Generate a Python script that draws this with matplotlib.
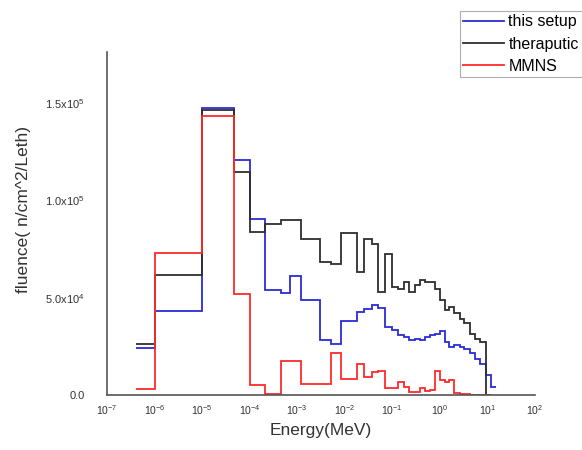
import numpy as np
import matplotlib
matplotlib.use("Agg")
import matplotlib.pyplot as plt

plt.rcParams['font.family'] = ['Liberation Sans', 'DejaVu Sans']
plt.rcParams['mathtext.default'] = 'regular'
plt.rcParams['axes.unicode_minus'] = False

# bordes de los bins de energia (MeV)
edges = [4.1e-7, 1e-6, 1e-5, 4.7e-5, 1e-4, 2.1e-4, 4.5e-4, 7e-4, 1.2e-3, 3e-3,
         5.2e-3, 8.5e-3, 1.8e-2, 2.6e-2, 3.7e-2, 4.9e-2, 7.2e-2, 0.1, 0.13, 0.18,
         0.23, 0.30, 0.38, 0.48, 0.62, 0.78, 1.0, 1.26, 1.6, 2.0,
         2.6, 3.3, 4.3, 5.4, 6.9, 9.6, 12, 15.5]

# fluencia en miles de n/cm^2/Leth
setup_k = [24, 43, 147.5, 120.5, 90.6, 54, 52.5, 61, 48.7, 28.5,
           26, 38, 42.7, 44, 46, 44.5, 35, 33.5, 31, 30,
           28.5, 29, 28.2, 29.9, 30.8, 31.6, 33, 27.5, 24.8, 25.6,
           24.8, 23.6, 21.4, 18.3, 15.9, 10.3, 4.3]
therap_k = [26, 61.5, 146.5, 114.5, 83.7, 88, 89.7, 89.7, 80.3, 68.4,
            67.2, 83, 63.2, 80.3, 77.8, 53, 72.6, 55.5, 54.7, 58,
            53, 56.4, 59.3, 58, 57.8, 54.7, 48.7, 43.6, 45.3, 41.9,
            39.3, 36.8, 31.6, 29, 27.3, 0]
mmns_k = [3, 73, 143, 51.8, 5, 0.8, 17.6, 17.6, 5.8, 5.8,
          21.4, 8.5, 16, 9.4, 12, 12.5, 3.8, 3.8, 6.5, 4.3,
          1.8, 1.5, 3.5, 2, 2.5, 12.5, 7.5, 6.8, 7.5, 1,
          0.5, 0.4, 0.3, 0.3, 0.2]

labels = ["this setup", "theraputic", "MMNS"]
colores = ["#2b2bd6", "#2e2e2e", "#ff2a2a"]

yticks = [0, 5e4, 1e5, 1.5e5]
yticklabels = ["0.0", "5.0x10$^4$", "1.0x10$^5$", "1.5x10$^5$"]
xticks = [1e-7, 1e-6, 1e-5, 1e-4, 1e-3, 1e-2, 1e-1, 1e0, 1e1, 1e2]
xticklabels = ["10$^{-7}$", "10$^{-6}$", "10$^{-5}$", "10$^{-4}$", "10$^{-3}$",
               "10$^{-2}$", "10$^{-1}$", "10$^{0}$", "10$^{1}$", "10$^{2}$"]

fig = plt.figure(figsize=(5.82, 4.5), dpi=100)
ax = fig.add_axes([0.184, 0.122, 0.735, 0.762])

series = [setup_k, therap_k, mmns_k]
for vals, lab, c in zip(series, labels, colores):
    v = np.array(vals) * 1000
    ax.stairs(v, edges[:len(v) + 1], baseline=None, color=c, lw=1.3, label=lab)

ax.set_xscale('log')
ax.set_xlim(1e-7, 1e2)
ax.set_ylim(0, 1.76e5)
ax.set_xticks(xticks)
ax.set_xticklabels(xticklabels)
ax.minorticks_off()
ax.set_yticks(yticks)
ax.set_yticklabels(yticklabels)
ax.tick_params(axis='both', length=0, labelsize=8, labelcolor='#333333')
ax.tick_params(axis='x', labelsize=7.5, pad=6)
ax.tick_params(axis='y', pad=16)

for s in ['top', 'right']:
    ax.spines[s].set_visible(False)
for s in ['left', 'bottom']:
    ax.spines[s].set_color('#555555')
    ax.spines[s].set_linewidth(1.2)

ax.set_xlabel("Energy(MeV)", fontsize=12.5, color='#333333', labelpad=4)
ax.set_ylabel("fluence( n/cm^2/Leth)", fontsize=12.5, color='#333333')
ax.yaxis.set_label_coords(-0.177, 0.54)

leg = fig.legend(loc='upper left', bbox_to_anchor=(0.790, 0.975), fontsize=11.5,
                 frameon=True, fancybox=False, handlelength=2.55, handletextpad=0.3,
                 labelspacing=0.45, borderpad=0.2, borderaxespad=0)
leg.get_frame().set_edgecolor('#999999')
leg.get_frame().set_linewidth(0.8)

fig.savefig("out.png", dpi=100)
